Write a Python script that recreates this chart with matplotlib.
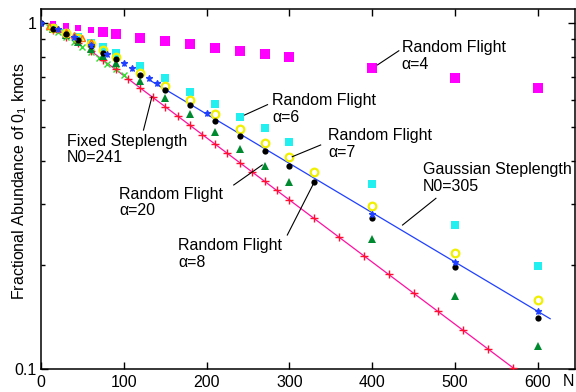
import matplotlib
matplotlib.use("Agg")
import matplotlib.pyplot as plt
from matplotlib.ticker import LogLocator, FixedLocator, FixedFormatter, NullFormatter

plt.rcParams['font.family'] = ['Liberation Sans', 'DejaVu Sans']
plt.rcParams['mathtext.fontset'] = 'custom'
plt.rcParams['mathtext.rm'] = 'Liberation Sans'
plt.rcParams['mathtext.it'] = 'Liberation Sans:italic'

# Random Flight alpha=4 (magenta squares)
n_a4 = [15, 30, 45, 60, 75, 90, 120, 150, 180, 210, 240, 270, 300, 400, 500, 600]
f_a4 = [0.995, 0.985, 0.97, 0.955, 0.942, 0.929, 0.905, 0.887, 0.871, 0.847,
        0.830, 0.815, 0.797, 0.743, 0.695, 0.650]

# Random Flight alpha=6 (cyan squares)
n_a6 = [15, 30, 45, 60, 75, 90, 120, 150, 180, 210, 240, 270, 300, 400, 500, 600]
f_a6 = [0.97, 0.94, 0.91, 0.88, 0.852, 0.822, 0.753, 0.694, 0.634, 0.584,
        0.537, 0.497, 0.455, 0.344, 0.262, 0.199]

# Random Flight alpha=7 (yellow open circles)
n_a7 = [15, 30, 45, 60, 75, 90, 120, 150, 180, 210, 240, 270, 300, 330, 400, 500, 600]
f_a7 = [0.97, 0.94, 0.905, 0.87, 0.835, 0.80, 0.72, 0.66, 0.600, 0.547,
        0.494, 0.452, 0.410, 0.3725, 0.296, 0.217, 0.1586]

# Random Flight alpha=8 (black dots)
n_a8 = [0, 15, 30, 45, 60, 75, 90, 120, 150, 180, 210, 240, 270, 300, 330, 400, 500, 600]
f_a8 = [1.0, 0.965, 0.93, 0.895, 0.858, 0.822, 0.787, 0.709, 0.641, 0.581,
        0.523, 0.472, 0.428, 0.387, 0.3485, 0.273, 0.197, 0.141]

# Random Flight alpha=20 (green triangles)
n_a20 = [15, 30, 45, 60, 75, 90, 120, 150, 180, 210, 240, 270, 300, 400, 500, 600]
f_a20 = [0.965, 0.925, 0.885, 0.845, 0.805, 0.769, 0.682, 0.610, 0.547, 0.486,
         0.432, 0.388, 0.348, 0.2375, 0.163, 0.1168]

# Gaussian steplength (blue asterisks) and its fit
n_gauss = [0, 20, 40, 60, 80, 100, 110, 130, 140, 200, 400, 500, 600]
f_gauss = [1.0, 0.96, 0.91, 0.865, 0.815, 0.766, 0.741, 0.694, 0.671, 0.549,
           0.282, 0.2046, 0.1477]
n_gauss_fit = [130, 615]
f_gauss_fit = [0.688, 0.140]

# Fixed steplength (red crosses) and its fit
n_fixed = [15, 30, 45, 60, 75, 90, 105, 120, 135, 150, 165, 180, 195, 210, 225,
           240, 255, 270, 285, 300, 330, 360, 390, 420, 450, 480, 510, 540, 570]
f_fixed = [0.955, 0.915, 0.875, 0.83, 0.785, 0.737, 0.692, 0.650, 0.611, 0.574,
           0.540, 0.507, 0.477, 0.448, 0.421, 0.396, 0.372, 0.350, 0.329, 0.309,
           0.273, 0.241, 0.213, 0.188, 0.166, 0.147, 0.130, 0.1145, 0.1012]
n_fixed_fit = [60, 575]
f_fixed_fit = [0.833, 0.099]

# small-N extra points crowded near the origin
n_tri_open = [10, 20, 30, 40, 50, 60]
f_tri_open = [0.985, 0.965, 0.945, 0.925, 0.905, 0.885]
n_xgreen = [10, 20, 30, 40, 50, 60, 70, 80, 90, 100]
f_xgreen = [0.975, 0.945, 0.915, 0.885, 0.855, 0.825, 0.795, 0.765, 0.738, 0.71]

fig = plt.figure(figsize=(5.76, 3.92), dpi=100)
ax = fig.add_axes([41 / 576, 22.7 / 392, 534 / 576, 360.3 / 392])
ax.set_yscale('log')

# fits
ax.plot(n_fixed_fit, f_fixed_fit, color='#ff10a0', lw=0.9, zorder=2)
ax.plot(n_gauss_fit, f_gauss_fit, color='#2040ff', lw=0.9, zorder=2)

# markers
ax.plot(n_xgreen, f_xgreen, 'x', color='#30e030', ms=4, mew=1, zorder=3)
ax.plot(n_fixed, f_fixed, '+', color='#ff1030', ms=6, mew=1, zorder=3)
ax.plot(n_a4[:4], f_a4[:4], 's', color='#ff00ff', ms=4.5, mew=0, zorder=3)
ax.plot(n_a4[4:], f_a4[4:], 's', color='#ff00ff', ms=6.5, mew=0, zorder=3)
ax.plot(n_a6, f_a6, 's', color='#22f0f0', ms=5.5, mew=0, zorder=3)
ax.plot(n_a20, f_a20, '^', color='#008a30', ms=5.5, mew=0, zorder=3)
ax.plot(n_a7, f_a7, 'o', mfc='none', mec='#f0f000', ms=5.5, mew=1.6, zorder=4)
ax.plot(n_a8, f_a8, 'o', color='black', ms=4.5, mew=0, zorder=5)
ax.plot(n_tri_open, f_tri_open, '^', mfc='none', mec='#ff7010', ms=5, mew=1, zorder=4)
ax.plot(n_gauss, f_gauss, '*', color='#2040ff', ms=5, mew=0.8, zorder=6)
ax.plot(n_gauss, f_gauss, '+', color='#2040ff', ms=5, mew=0.8, zorder=6)

ax.set_xlim(0, 645)
ax.set_ylim(0.1, 1.1)

ax.xaxis.set_major_locator(FixedLocator([0, 100, 200, 300, 400, 500, 600]))
ax.yaxis.set_major_locator(FixedLocator([0.1, 1]))
ax.yaxis.set_major_formatter(FixedFormatter(['0.1', '1']))
ax.yaxis.set_minor_locator(LogLocator(base=10, subs=[2, 3, 4, 5, 6, 7, 8, 9]))
ax.yaxis.set_minor_formatter(NullFormatter())
ax.tick_params(which='both', direction='in', top=True, right=True,
               labelsize=11.5, width=1)
ax.tick_params(which='major', length=5)
ax.tick_params(which='minor', length=3)
ax.tick_params(axis='x', pad=4)
ax.tick_params(axis='y', pad=3)
for sp in ax.spines.values():
    sp.set_linewidth(1.1)

fig.text(19.5 / 576, 1 - 181.5 / 392, 'Fractional Abundance of 0$_1$ knots',
         rotation=90, ha='center', va='center', fontsize=11.5)
fig.text(563 / 576, 1 - 381 / 392, 'N', ha='left', va='center', fontsize=11.5)

# annotations: (text, text position, leader start, leader end)
notes = [
    ('Random Flight\n\u03b1=4', (435.5, 0.806), (432.2, 0.833), (406.4, 0.758)),
    ('Random Flight\n\u03b1=6', (279.3, 0.566), (273.6, 0.582), (245.8, 0.543)),
    ('Random Flight\n\u03b1=7', (347.1, 0.449), (337.8, 0.445), (303.5, 0.4116)),
    ('Random Flight\n\u03b1=20', (94.8, 0.3034), (232.8, 0.341), (267.2, 0.3896)),
    ('Random Flight\n\u03b1=8', (165.9, 0.2158), (297.5, 0.2444), (329.3, 0.3447)),
    ('Fixed Steplength\nN0=241', (31.1, 0.432), (123.8, 0.4915), (134.0, 0.6135)),
    ('Gaussian Steplength\nN0=305', (460.9, 0.3565), (436.7, 0.2612), (477.0, 0.312)),
]
for label, pos, p0, p1 in notes:
    ax.text(pos[0], pos[1], label, ha='left', va='center', fontsize=11.5,
            linespacing=1.15, zorder=7, clip_on=False)
    ax.plot([p0[0], p1[0]], [p0[1], p1[1]], color='black', lw=0.8, zorder=7)

fig.savefig('out.png', dpi=100)
